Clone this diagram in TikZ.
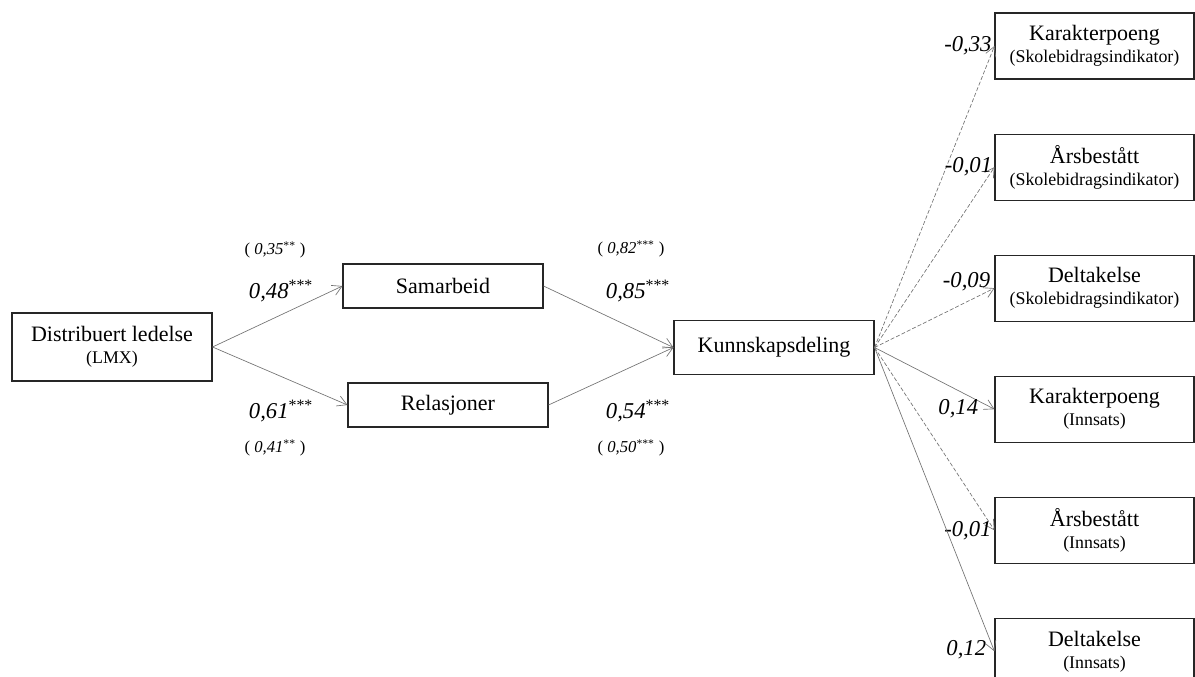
\documentclass[tikz,border=0pt]{standalone}
\usepackage{fontspec}
\setmainfont{Liberation Serif}
\usetikzlibrary{positioning,arrows.meta}

\newcommand{\subtxt}[1]{{\fontsize{13.4}{16.5}\selectfont #1}}
\newcommand{\stars}[1]{\textsuperscript{\upshape #1}}
\newcommand{\std}[2]{( \textit{#1}\textsuperscript{#2} )}

\tikzset{
  box/.style={draw=black!85,line width=0.8pt,minimum width=150pt,inner sep=0pt,
    align=center,font=\fontsize{16.5}{16.5}\selectfont},
  res/.style={box,minimum width=149.25pt,minimum height=49.5pt},
  arr/.style={-{Straight Barb[length=7pt,width=8pt]},draw=black!55,line width=0.5pt},
  darr/.style={arr,dash pattern=on 3pt off 1.5pt},
  coef/.style={inner sep=0pt,font=\fontsize{17}{17}\selectfont\itshape},
  stdcoef/.style={inner sep=0pt,font=\fontsize{12.5}{12.5}\selectfont},
}

\begin{document}
\begin{tikzpicture}[x=0.75pt,y=-0.75pt,node distance=40.5pt]
      \useasboundingbox (0,0) rectangle (1195,677);
      % model
      \node[box,minimum height=51pt] at (112,347) (dl){Distribuert ledelse\\\subtxt{(LMX)}};
      \node[box,minimum height=33pt] at (443,286) (sam){Samarbeid};
      \node[box,minimum height=33pt] at (448,405) (rel){Relasjoner};
      \node[box,minimum height=40pt] at (774,347.5) (kd){Kunnskapsdeling};

      % outcomes
      \node[res] at (1094.5,46) (kp1){Karakterpoeng\\\subtxt{(Skolebidragsindikator)}};
      \node[res,below=of kp1](ab1){Årsbestått\\\subtxt{(Skolebidragsindikator)}};
      \node[res,below=of ab1](dt1){Deltakelse\\\subtxt{(Skolebidragsindikator)}};
      \node[res,below=of dt1](kp2){Karakterpoeng\\\subtxt{(Innsats)}};
      \node[res,below=of kp2](ab2){Årsbestått\\\subtxt{(Innsats)}};
      \node[res,below=of ab2](dt2){Deltakelse\\\subtxt{(Innsats)}};

      \draw[arr] (dl.east) -- (sam.west);
      \draw[arr] (dl.east) -- (rel.west);
      \draw[arr] (sam.east) -- (kd.west);
      \draw[arr] (rel.east) -- (kd.west);

      \node[coef] at (281,291) (c1){0,48\stars{***}};
      \node[stdcoef] at (275,250) (s1){\std{0,35}{**}};
      \node[coef] at (281,411) (c2){0,61\stars{***}};
      \node[stdcoef] at (275,448) (s2){\std{0,41}{**}};
      \node[coef] at (638,291) (c3){0,85\stars{***}};
      \node[stdcoef] at (631,249) (s3){\std{0,82}{***}};
      \node[coef] at (638,411) (c4){0,54\stars{***}};
      \node[stdcoef] at (631,448) (s4){\std{0,50}{***}};

      \draw[darr] (kd.east) -- (kp1.west) node[coef,at end,anchor=east,xshift=-2pt]{-0,33};
      \draw[darr] (kd.east) -- (ab1.west) node[coef,at end,anchor=east,xshift=-1.5pt]{-0,01};
      \draw[darr] (kd.east) -- (dt1.west) node[coef,at end,anchor=east,xshift=-3pt,yshift=5pt]{-0,09};
      \draw[arr] (kd.east) -- (kp2.west) node[coef,at end,anchor=east,xshift=-12pt]{0,14};
      \draw[darr] (kd.east) -- (ab2.west) node[coef,at end,anchor=east,xshift=-2pt]{-0,01};
      \draw[arr] (kd.east) -- (dt2.west) node[coef,at end,anchor=east,xshift=-6pt,yshift=1pt]{0,12};
\end{tikzpicture}
\end{document}
